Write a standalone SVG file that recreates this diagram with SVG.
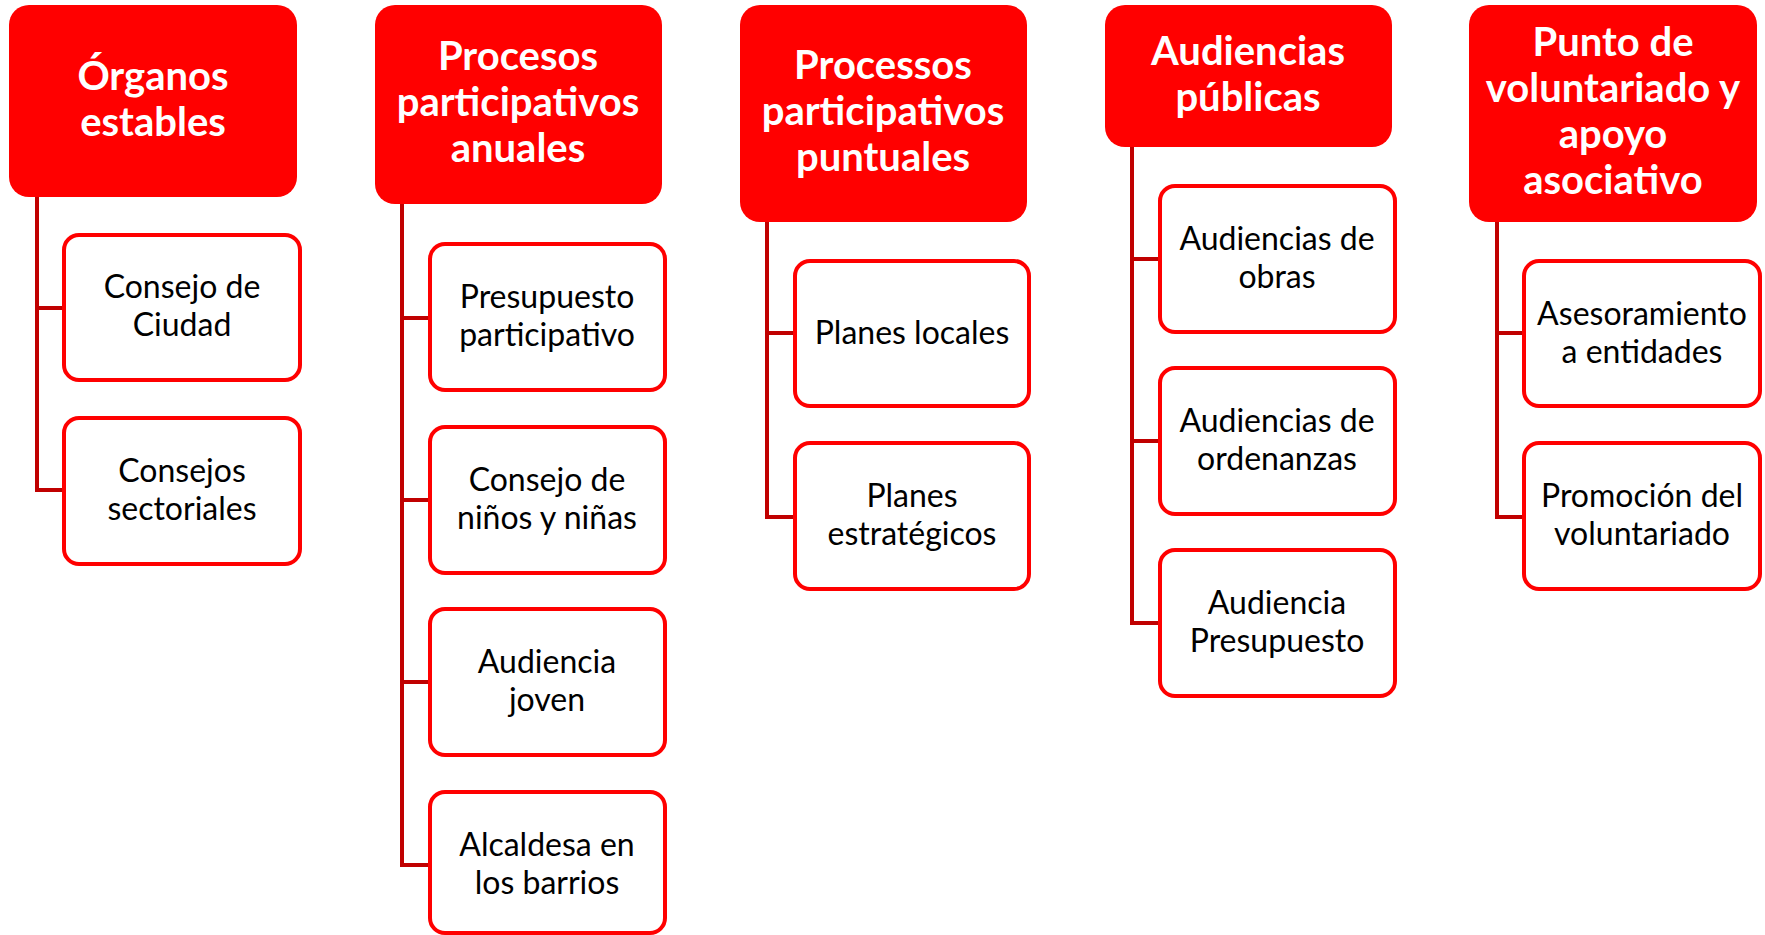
<svg xmlns="http://www.w3.org/2000/svg" width="1765" height="935" viewBox="0 0 1765 935">
<style>
.hdr{fill:#FF0000;}
.htx{fill:#FFFFFF;font-family:Lato,"Noto Sans",sans-serif;font-weight:bold;font-size:40px;text-anchor:middle;}
.box{fill:#FFFFFF;stroke:#FF0000;stroke-width:4;}
.ctx{fill:#000000;font-family:Lato,"Noto Sans",sans-serif;font-size:32px;text-anchor:middle;}
.con{fill:none;stroke:#C00000;stroke-width:4;}
</style>
<rect width="1765" height="935" fill="#FFFFFF"/>
<g id="connectors">
<path class="con" d="M37,197 V490 H64 M37,308 H64"/>
<path class="con" d="M402,204 V865 H430 M402,318 H430 M402,500 H430 M402,682 H430"/>
<path class="con" d="M767,222 V517 H795 M767,333 H795"/>
<path class="con" d="M1132,147 V623 H1160 M1132,259 H1160 M1132,441 H1160"/>
<path class="con" d="M1497,222 V517 H1524 M1497,333 H1524"/>
</g>
<g id="h1"><rect class="hdr" x="9" y="5" width="288" height="192" rx="20"/><text class="htx" x="153"><tspan x="153" y="90">Órganos</tspan><tspan x="153" y="136">estables</tspan></text></g>
<g id="h2"><rect class="hdr" x="375" y="5" width="287" height="199" rx="20"/><text class="htx"><tspan x="518" y="70">Procesos</tspan><tspan x="518" y="116">participativos</tspan><tspan x="518" y="162">anuales</tspan></text></g>
<g id="h3"><rect class="hdr" x="740" y="5" width="287" height="217" rx="20"/><text class="htx"><tspan x="883" y="79">Processos</tspan><tspan x="883" y="125">participativos</tspan><tspan x="883" y="171">puntuales</tspan></text></g>
<g id="h4"><rect class="hdr" x="1105" y="5" width="287" height="142" rx="20"/><text class="htx"><tspan x="1248" y="65">Audiencias</tspan><tspan x="1248" y="111">públicas</tspan></text></g>
<g id="h5"><rect class="hdr" x="1469" y="5" width="288" height="217" rx="20"/><text class="htx"><tspan x="1613" y="56">Punto de</tspan><tspan x="1613" y="102">voluntariado y</tspan><tspan x="1613" y="148">apoyo</tspan><tspan x="1613" y="194">asociativo</tspan></text></g>
<g id="c1a"><rect class="box" x="64" y="235" width="236" height="145" rx="15"/><text class="ctx"><tspan x="182" y="298">Consejo de</tspan><tspan x="182" y="336">Ciudad</tspan></text></g>
<g id="c1b"><rect class="box" x="64" y="418" width="236" height="146" rx="15"/><text class="ctx"><tspan x="182" y="482">Consejos</tspan><tspan x="182" y="520">sectoriales</tspan></text></g>
<g id="c2a"><rect class="box" x="430" y="244" width="235" height="146" rx="15"/><text class="ctx"><tspan x="547" y="308">Presupuesto</tspan><tspan x="547" y="346">participativo</tspan></text></g>
<g id="c2b"><rect class="box" x="430" y="427" width="235" height="146" rx="15"/><text class="ctx"><tspan x="547" y="491">Consejo de</tspan><tspan x="547" y="529">niños y niñas</tspan></text></g>
<g id="c2c"><rect class="box" x="430" y="609" width="235" height="146" rx="15"/><text class="ctx"><tspan x="547" y="673">Audiencia</tspan><tspan x="547" y="711">joven</tspan></text></g>
<g id="c2d"><rect class="box" x="430" y="792" width="235" height="141" rx="15"/><text class="ctx"><tspan x="547" y="856">Alcaldesa en</tspan><tspan x="547" y="894">los barrios</tspan></text></g>
<g id="c3a"><rect class="box" x="795" y="261" width="234" height="145" rx="15"/><text class="ctx"><tspan x="912" y="344">Planes locales</tspan></text></g>
<g id="c3b"><rect class="box" x="795" y="443" width="234" height="146" rx="15"/><text class="ctx"><tspan x="912" y="507">Planes</tspan><tspan x="912" y="545">estratégicos</tspan></text></g>
<g id="c4a"><rect class="box" x="1160" y="186" width="235" height="146" rx="15"/><text class="ctx"><tspan x="1277" y="250">Audiencias de</tspan><tspan x="1277" y="288">obras</tspan></text></g>
<g id="c4b"><rect class="box" x="1160" y="368" width="235" height="146" rx="15"/><text class="ctx"><tspan x="1277" y="432">Audiencias de</tspan><tspan x="1277" y="470">ordenanzas</tspan></text></g>
<g id="c4c"><rect class="box" x="1160" y="550" width="235" height="146" rx="15"/><text class="ctx"><tspan x="1277" y="614">Audiencia</tspan><tspan x="1277" y="652">Presupuesto</tspan></text></g>
<g id="c5a"><rect class="box" x="1524" y="261" width="236" height="145" rx="15"/><text class="ctx"><tspan x="1642" y="325">Asesoramiento</tspan><tspan x="1642" y="363">a entidades</tspan></text></g>
<g id="c5b"><rect class="box" x="1524" y="443" width="236" height="146" rx="15"/><text class="ctx"><tspan x="1642" y="507">Promoción del</tspan><tspan x="1642" y="545">voluntariado</tspan></text></g>
</svg>
